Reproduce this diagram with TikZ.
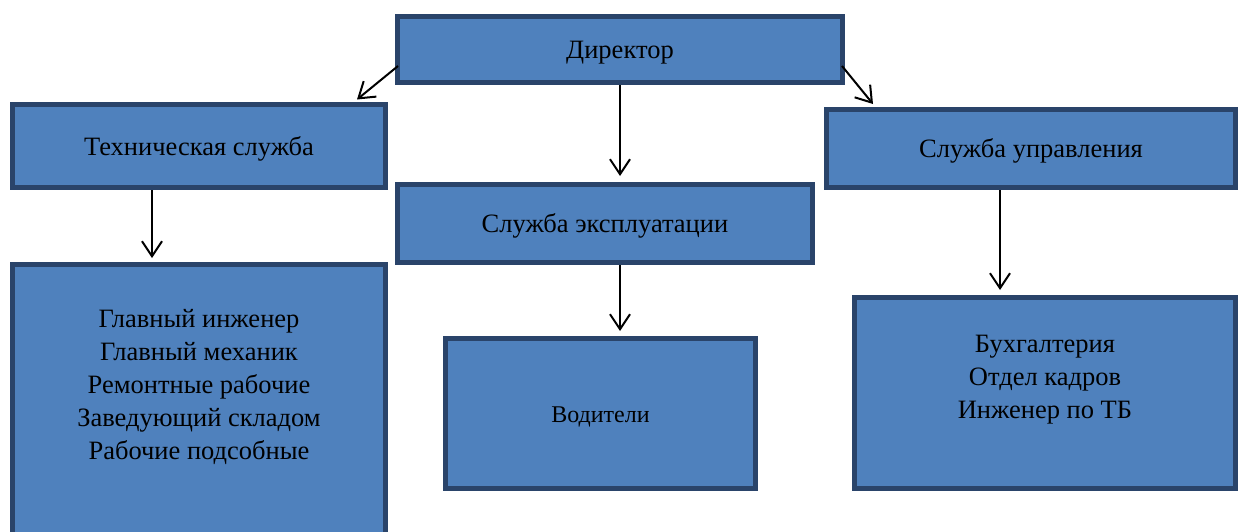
\documentclass[tikz,border=0pt]{standalone}
\usepackage{fontspec}
\setmainfont{Liberation Serif}
\usetikzlibrary{arrows.meta,calc}
\definecolor{boxfill}{HTML}{4F81BD}
\definecolor{boxline}{HTML}{2A446A}
\tikzset{
  orgbox/.style={draw=boxline, fill=boxfill, line width=5pt, inner sep=0pt, font=\fontsize{26.5}{33}\selectfont, align=center, text height=24pt, text depth=6pt},
  lbl/.style={inner sep=0pt, font=\fontsize{26.5}{33}\selectfont, align=center},
  conn/.style={line width=2pt, -{Straight Barb[length=15pt,width=20pt,line width=2pt]}}
}
\begin{document}
\begin{tikzpicture}[x=1pt,y=-1pt]
\useasboundingbox (0,0) rectangle (1238,531);
\clip (0,0) rectangle (1238,531);
\node[orgbox, minimum width=445pt, minimum height=66pt] (dir) at (620,49.5) {Директор};
\node[orgbox, minimum width=373pt, minimum height=83pt] (tech) at (199,146) {Техническая служба};
\node[orgbox, minimum width=415pt, minimum height=78pt] (eksp) at (605,223.5) {Служба эксплуатации};
\node[orgbox, minimum width=409pt, minimum height=78pt] (upr) at (1031,148.5) {Служба управления};
\node[orgbox, minimum width=373pt, minimum height=273pt] (techbig) at (199,401) {};
\node[lbl] (techtxt) at (199,387) {Главный инженер\\Главный механик\\Ремонтные рабочие\\Заведующий складом\\Рабочие подсобные};
\node[orgbox, minimum width=310pt, minimum height=150pt, font=\fontsize{24}{30}\selectfont] (vod) at (600.5,413.5) {Водители};
\node[orgbox, minimum width=381pt, minimum height=191pt] (uprbig) at (1045,393) {};
\node[lbl] (uprtxt) at (1045,380) {Бухгалтерия\\Отдел кадров\\Инженер по ТБ};
\draw[conn] ($(dir.west)+(3,16.5)$) -- ($(tech.north east)+(-31,-2.5)$);
\draw[conn] ($(dir.east)+(-3,16.5)$) -- ($(upr.north west)+(49,-3)$);
\draw[conn] (dir.south) -- ($(eksp.north)+(15,-6)$);
\draw[conn] ($(tech.south)+(-47,0)$) -- ($(techbig.north)+(-47,-4)$);
\draw[conn] ($(eksp.south)+(15,0)$) -- ($(vod.north)+(19.5,-5)$);
\draw[conn] ($(upr.south)+(-31,0)$) -- ($(uprbig.north)+(-45,-5)$);
\end{tikzpicture}
\end{document}
